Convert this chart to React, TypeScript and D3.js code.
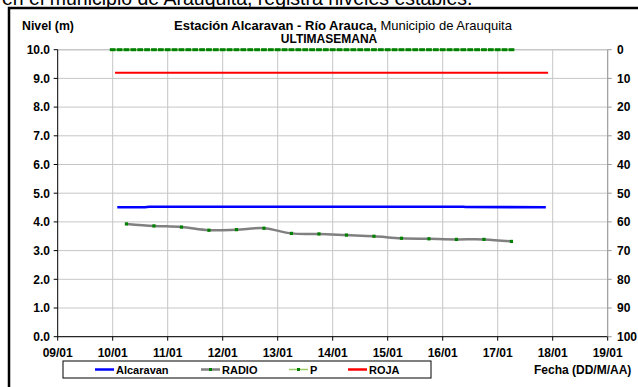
import React from "react";
import * as d3 from "d3";

// ---- data ----
const xTickDays = [9, 10, 11, 12, 13, 14, 15, 16, 17, 18, 19];
const yTicksLeft = [0, 1, 2, 3, 4, 5, 6, 7, 8, 9, 10];
const yTicksRight = [0, 10, 20, 30, 40, 50, 60, 70, 80, 90, 100];

// Alcaravan level (m): [day of January, hour], value
const alcaravanTimes: [number, number][] = [[10, 2], [10, 14], [10, 16], [13, 0], [16, 9], [16, 10], [17, 21]];
const alcaravanValues = [4.51, 4.51, 4.53, 4.53, 4.53, 4.52, 4.51];

// RADIO readings (m)
const radioTimes: [number, number][] = [
  [10, 6], [10, 18], [11, 6], [11, 18], [12, 6], [12, 18], [13, 6], [13, 18],
  [14, 6], [14, 18], [15, 6], [15, 18], [16, 6], [16, 18], [17, 6],
];
const radioValues = [3.93, 3.86, 3.82, 3.71, 3.73, 3.78, 3.6, 3.58, 3.54, 3.5, 3.43, 3.41, 3.39, 3.39, 3.32];

// P precipitation (right axis, mm) every 3 hours
const pTimes: [number, number][] = [
  [10, 0], [10, 3], [10, 6], [10, 9], [10, 12], [10, 15], [10, 18], [10, 21],
  [11, 0], [11, 3], [11, 6], [11, 9], [11, 12], [11, 15], [11, 18], [11, 21],
  [12, 0], [12, 3], [12, 6], [12, 9], [12, 12], [12, 15], [12, 18], [12, 21],
  [13, 0], [13, 3], [13, 6], [13, 9], [13, 12], [13, 15], [13, 18], [13, 21],
  [14, 0], [14, 3], [14, 6], [14, 9], [14, 12], [14, 15], [14, 18], [14, 21],
  [15, 0], [15, 3], [15, 6], [15, 9], [15, 12], [15, 15], [15, 18], [15, 21],
  [16, 0], [16, 3], [16, 6], [16, 9], [16, 12], [16, 15], [16, 18], [16, 21],
  [17, 0], [17, 3], [17, 6],
];
const pValues = [
  0, 0, 0, 0, 0, 0, 0, 0, 0, 0, 0, 0, 0, 0, 0, 0, 0, 0, 0, 0, 0, 0, 0, 0,
  0, 0, 0, 0, 0, 0, 0, 0, 0, 0, 0, 0, 0, 0, 0, 0, 0, 0, 0, 0, 0, 0, 0, 0,
  0, 0, 0, 0, 0, 0, 0, 0, 0, 0, 0,
];

// ROJA alert level (m)
const rojaTimes: [number, number][] = [[10, 1], [17, 22]];
const rojaValues = [9.2, 9.2];

const legendItems = ["Alcaravan", "RADIO", "P", "ROJA"];

const FONT = "Arial, 'Liberation Sans', Helvetica, sans-serif";
const toDate = (d: number, h: number) => new Date(Date.UTC(2014, 0, d, h));

export default function App() {
  const W = 638, H = 387;
  const left = 57.7, right = 607.7, top = 49.7, bottom = 336.7;

  const x = d3.scaleUtc().domain([toDate(9, 0), toDate(19, 0)]).range([left, right]);
  const y = d3.scaleLinear().domain([0, 10]).range([bottom, top]);
  const y2 = d3.scaleLinear().domain([0, 100]).range([top, bottom]);
  const fmt = d3.utcFormat("%d/%m");

  const line = d3.line<[number, number]>().x(d => d[0]).y(d => d[1]);
  const smooth = d3.line<[number, number]>().x(d => d[0]).y(d => d[1]).curve(d3.curveCatmullRom.alpha(0.5));

  const alcPts: [number, number][] = alcaravanTimes.map((t, i) => [x(toDate(t[0], t[1])), y(alcaravanValues[i])]);
  const radioPts: [number, number][] = radioTimes.map((t, i) => [x(toDate(t[0], t[1])), y(radioValues[i])]);
  const pPts: [number, number][] = pTimes.map((t, i) => [x(toDate(t[0], t[1])), y2(pValues[i])]);
  const rojaPts: [number, number][] = rojaTimes.map((t, i) => [x(toDate(t[0], t[1])), y(rojaValues[i])]);

  const legendX = [95, 201, 289, 348];
  const legendY = 369.5;

  return (
    <svg width={W} height={H} style={{ position: "absolute", left: 0, top: 0, background: "#fff" }} fontFamily={FONT}>
      <rect x={0} y={0} width={W} height={H} fill="#fff" />
      {/* clipped paragraph text at the top */}
      <text x={2} y={4.5} fontSize={19.5} fill="#000">en el municipio de Arauquita, registra niveles estables.</text>
      {/* frame */}
      <rect x={9} y={8} width={W + 20} height={H + 20} fill="none" stroke="#000" strokeWidth={2.5} />

      {/* gridlines */}
      {yTicksLeft.map(v => (
        <line key={"gy" + v} x1={left} x2={right} y1={y(v)} y2={y(v)} stroke="#c6c6c6" strokeWidth={v === 10 ? 1.5 : 1} />
      ))}
      {xTickDays.slice(1).map(d => (
        <line key={"gx" + d} x1={x(toDate(d, 0))} x2={x(toDate(d, 0))} y1={top} y2={bottom} stroke="#c6c6c6" strokeWidth={1} />
      ))}

      {/* axes */}
      <line x1={left} x2={left} y1={top} y2={bottom} stroke="#000" strokeWidth={1} />
      <line x1={left} x2={right} y1={bottom} y2={bottom} stroke="#000" strokeWidth={1} />
      <line x1={right} x2={right} y1={top} y2={bottom} stroke="#999" strokeWidth={1} />
      {yTicksLeft.map(v => (
        <g key={"yl" + v}>
          <line x1={left - 4} x2={left} y1={y(v)} y2={y(v)} stroke="#000" />
          <text x={50} y={y(v)} dy="0.36em" textAnchor="end" fontSize={12} fontWeight="bold">{v.toFixed(1)}</text>
        </g>
      ))}
      {yTicksRight.map(v => (
        <g key={"yr" + v}>
          <line x1={right} x2={right + 4} y1={y2(v)} y2={y2(v)} stroke="#999" />
          <text x={617} y={y2(v)} dy="0.36em" textAnchor="start" fontSize={12} fontWeight="bold">{v}</text>
        </g>
      ))}
      {xTickDays.map(d => (
        <g key={"xt" + d}>
          <line x1={x(toDate(d, 0))} x2={x(toDate(d, 0))} y1={bottom} y2={bottom + 4} stroke="#000" />
          <text x={x(toDate(d, 0))} y={356.5} textAnchor="middle" fontSize={12} fontWeight="bold">{fmt(toDate(d, 0))}</text>
        </g>
      ))}

      {/* series */}
      <path d={line(rojaPts) || ""} fill="none" stroke="#ff0000" strokeWidth={2} />
      <path d={line(pPts) || ""} fill="none" stroke="#99cc66" strokeWidth={1.5} />
      {pPts.map((p, i) => (
        <rect key={"pm" + i} x={p[0] - 2.9} y={p[1] - 1.5} width={5.8} height={3} fill="#008000" />
      ))}
      <path d={line(alcPts) || ""} fill="none" stroke="#0000ff" strokeWidth={2.6} />
      <path d={smooth(radioPts) || ""} fill="none" stroke="#808080" strokeWidth={2.5} />
      {radioPts.map((p, i) => (
        <rect key={"rm" + i} x={p[0] - 1.6} y={p[1] - 1.6} width={3.2} height={3.2} fill="#008000" />
      ))}

      {/* title */}
      <text x={22} y={30} fontSize={12.3} fontWeight="bold">Nivel (m)</text>
      <text x={343} y={30} textAnchor="middle" fontSize={13}>
        <tspan fontWeight="bold">Estación Alcaravan - Río Arauca,</tspan>
        <tspan> Municipio de Arauquita</tspan>
      </text>
      <text x={329} y={43} textAnchor="middle" fontSize={12} fontWeight="bold">ULTIMASEMANA</text>

      {/* legend */}
      <rect x={63} y={361} width={368} height={17} fill="#fff" stroke="#000" strokeWidth={1} />
      {legendItems.map((name, i) => {
        const lx = legendX[i];
        const color = ["#0000ff", "#808080", "#99cc66", "#ff0000"][i];
        return (
          <g key={name}>
            <line x1={lx} x2={lx + 19} y1={legendY} y2={legendY} stroke={color} strokeWidth={i === 2 ? 1.5 : 2.5} />
            {(i === 1 || i === 2) && <rect x={lx + 8} y={legendY - 1.5} width={3} height={3} fill="#008000" />}
            <text x={lx + 21} y={373.5} fontSize={11} fontWeight="bold">{name}</text>
          </g>
        );
      })}
      <text x={534} y={373.5} fontSize={12} fontWeight="bold">Fecha (DD/M/AA)</text>
    </svg>
  );
}
